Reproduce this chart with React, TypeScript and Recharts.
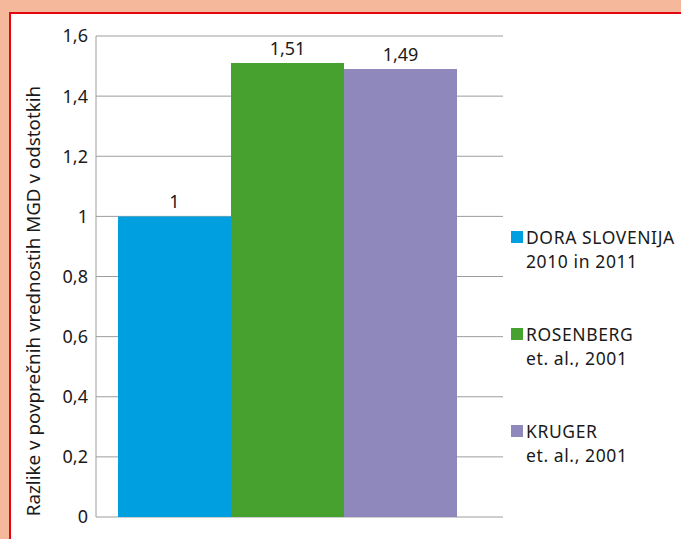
import { Bar, BarChart, CartesianGrid, LabelList, XAxis, YAxis } from "recharts"

const categories = ["MGD"]
const seriesNames = ["DORA SLOVENIJA", "ROSENBERG", "KRUGER"]
const seriesSubtitles = ["2010 in 2011", "et. al., 2001", "et. al., 2001"]
const seriesValues = [1, 1.51, 1.49]
const seriesColors = ["#009fe0", "#46a12e", "#8f88bc"]
const yTicks = [0, 0.2, 0.4, 0.6, 0.8, 1, 1.2, 1.4, 1.6]
const yTitle = "Razlike v povprečnih vrednostih MGD v odstotkih"

const data = categories.map((name) => {
  const row: Record<string, string | number> = { name }
  seriesValues.forEach((v, i) => {
    row["s" + i] = v
  })
  return row
})

const font = "'Noto Sans', sans-serif"
const fs = 18
const comma = (v: number | string) => String(v).replace(".", ",")

function LegendBox() {
  return (
    <div
      style={{
        position: "absolute",
        left: 511,
        top: 225,
        width: 175,
        fontFamily: font,
        fontSize: 17.5,
        letterSpacing: 0.6,
        color: "#1a1a1a",
        lineHeight: "24px",
      }}
    >
      {seriesNames.map((n, i) => (
        <div key={n} style={{ position: "relative", height: 97, paddingLeft: 15 }}>
          <span
            style={{
              position: "absolute",
              left: 0,
              top: 6,
              width: 12,
              height: 12,
              background: seriesColors[i],
            }}
          />
          <div style={{ whiteSpace: "nowrap" }}>{n}</div>
          <div style={{ whiteSpace: "nowrap" }}>{seriesSubtitles[i]}</div>
        </div>
      ))}
    </div>
  )
}

export default function App() {
  return (
    <div
      style={{
        position: "absolute",
        left: 0,
        top: 0,
        width: 681,
        height: 539,
        background: "#f6b89a",
        overflow: "hidden",
      }}
    >
      <div
        style={{
          position: "absolute",
          left: 9,
          top: 12,
          width: 700,
          height: 560,
          background: "#fff",
          borderLeft: "2px solid #e30613",
          borderTop: "2px solid #e30613",
        }}
      />
      <div style={{ position: "absolute", left: 0, top: 0 }}>
        <BarChart
          width={681}
          height={539}
          data={data}
          margin={{ top: 36, right: 178, bottom: 22, left: 0 }}
          barGap={0}
          barCategoryGap={22}
        >
          <CartesianGrid vertical={false} stroke="#9d9d9d" strokeWidth={1} />
          <XAxis
            dataKey="name"
            tick={false}
            tickLine={false}
            height={0}
            padding={{ left: 0, right: 24 }}
            axisLine={{ stroke: "#000", strokeWidth: 1.5 }}
          />
          <YAxis
            width={96}
            domain={[0, 1.6]}
            ticks={yTicks}
            interval={0}
            tickLine={false}
            axisLine={{ stroke: "#9d9d9d" }}
            tickFormatter={comma}
            tick={{ fontFamily: font, fontSize: fs, fill: "#1a1a1a" }}
            label={{
              content: () => (
                <text
                  x={33}
                  y={301}
                  transform="rotate(-90 33 301)"
                  textAnchor="middle"
                  dominantBaseline="central"
                  fontFamily={font}
                  fontSize={18.8}
                  fill="#1a1a1a"
                >
                  {yTitle}
                </text>
              ),
            }}
          />
          {seriesNames.map((n, i) => (
            <Bar key={n} dataKey={"s" + i} name={n} fill={seriesColors[i]} isAnimationActive={false}>
              <LabelList
                dataKey={"s" + i}
                position="top"
                offset={8}
                formatter={comma}
                style={{ fontFamily: font, fontSize: fs, fill: "#1a1a1a" }}
              />
            </Bar>
          ))}
        </BarChart>
      </div>
      <LegendBox />
    </div>
  )
}
